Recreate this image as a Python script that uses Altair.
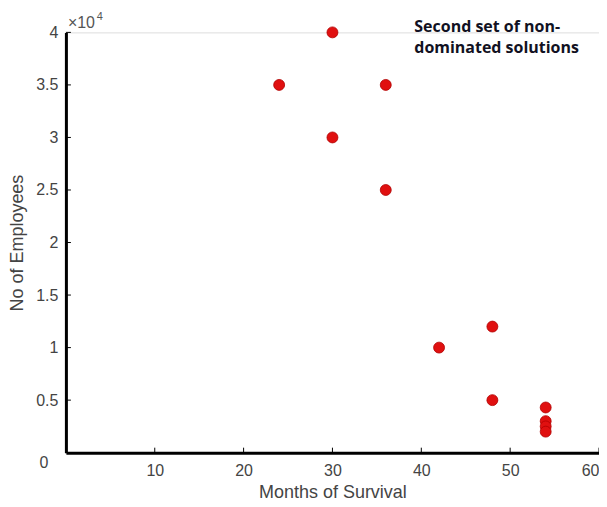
import altair as alt
import pandas as pd

months = [30, 24, 36, 30, 36, 48, 42, 48, 54, 54, 54, 54]
employees = [40000, 35000, 35000, 30000, 25000, 12000, 10000, 5000, 4300, 3000, 2500, 2000]

x_ticks = [10, 20, 30, 40, 50, 60]
y_ticks = [5000, 10000, 15000, 20000, 25000, 30000, 35000, 40000]

df = pd.DataFrame({"months": months, "employees": employees})
xt = pd.DataFrame({"v": x_ticks})
yt = pd.DataFrame({"v": y_ticks})

W, H = 534, 421
xscale = alt.Scale(domain=[0, 60], nice=False, zero=False)
yscale = alt.Scale(domain=[0, 40000], nice=False)

label_font = "Liberation Sans"

points = alt.Chart(df).mark_circle(
    size=120, color="#e01010", opacity=1, stroke="#b00000", strokeWidth=0.8
).encode(
    x=alt.X("months:Q", scale=xscale, title="Months of Survival",
            axis=alt.Axis(values=x_ticks, grid=False, ticks=False, domainColor="black",
                          domainWidth=3, labelFont=label_font, labelFontSize=16,
                          labelColor="#444444", labelPadding=10, labelFlush=True,
                          titleFont=label_font, titleFontSize=18, titleFontWeight="normal",
                          titleColor="#444444", titlePadding=5)),
    y=alt.Y("employees:Q", scale=yscale, title="No of Employees",
            axis=alt.Axis(values=y_ticks, grid=False, ticks=False, domainColor="black",
                          domainWidth=3, labelExpr="datum.value / 10000",
                          labelFont=label_font, labelFontSize=16,
                          labelColor="#444444", labelPadding=8,
                          titleFont=label_font, titleFontSize=18, titleFontWeight="normal",
                          titleColor="#444444", titlePadding=9)),
)

xtick_marks = alt.Chart(xt).mark_rule(color="black", strokeWidth=1).encode(
    x=alt.X("v:Q", scale=xscale),
    y=alt.value(H), y2=alt.value(H - 5),
)
ytick_marks = alt.Chart(yt).mark_rule(color="black", strokeWidth=1).encode(
    y=alt.Y("v:Q", scale=yscale),
    x=alt.value(0), x2=alt.value(5),
)

zero_lbl = alt.Chart(pd.DataFrame({"t": ["0"]})).mark_text(
    font=label_font, fontSize=16, color="#444444", align="center", baseline="middle"
).encode(text="t:N", x=alt.value(-22), y=alt.value(H + 10))

exp_base = alt.Chart(pd.DataFrame({"t": ["\u00d710"]})).mark_text(
    font=label_font, fontSize=16, color="#555555", align="left", baseline="alphabetic"
).encode(text="t:N", x=alt.value(2), y=alt.value(-4))
exp_pow = alt.Chart(pd.DataFrame({"t": ["4"]})).mark_text(
    font=label_font, fontSize=11, color="#555555", align="left", baseline="alphabetic"
).encode(text="t:N", x=alt.value(31), y=alt.value(-12))

note = alt.Chart(pd.DataFrame({"t": [["Second set of non-", "dominated solutions"]]})).mark_text(
    font="Open Sans", fontSize=16, fontWeight="bold", color="#111122",
    align="left", baseline="middle", lineHeight=21
).encode(text="t", x=alt.value(349), y=alt.value(-5))

chart = alt.layer(points, xtick_marks, ytick_marks, zero_lbl, exp_base, exp_pow, note).properties(
    width=W, height=H,
    autosize=alt.AutoSizeParams(type="none"),
    padding={"left": 58, "top": 24, "right": 0, "bottom": 50},
).configure_view(stroke=None).configure(background="white")

chart.save("out.html", embed_options={"renderer": "svg", "actions": False})
